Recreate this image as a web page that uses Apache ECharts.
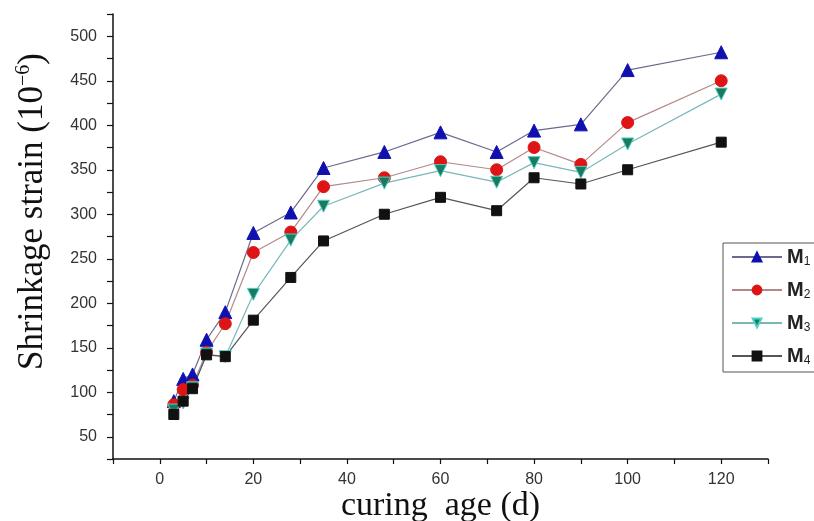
<!DOCTYPE html>
<html lang="en" style="width: 100%;height:100%">
    <head>
        <meta charset="UTF-8">
        <title>Shrinkage strain</title>
        <script src="https://cdn.jsdelivr.net/npm/echarts@6.0.0/dist/echarts.min.js"></script>
    </head>
    <body style="width: 100%;height:100%;margin:0">
        <div id="line" style="width: 814px;height:521px"></div>
        <script>
            // curing age (d) and shrinkage strain per mix
            var days = [3, 5, 7, 10, 14, 20, 28, 35, 48, 60, 72, 80, 90, 100, 120];
            var m1 = [90, 115, 120, 159, 190, 279, 302, 352, 370, 392, 370, 394, 401, 462, 482];
            var m2 = [86, 103, 108, 145, 177, 257, 280, 331, 341, 359, 350, 375, 356, 403, 450];
            var m3 = [80, 88, 105, 143, 140, 210, 271, 309, 335, 349, 336, 358, 347, 379, 435];
            var m4 = [75, 90, 104, 142, 140, 181, 229, 270, 300, 319, 304, 341, 334, 350, 381];
            var names = ['M1', 'M2', 'M3', 'M4'];

            function pairs(vals) {
                return days.map(function (d, i) { return [d, vals[i]]; });
            }

            const myChart = echarts.init(document.getElementById('line'));

            const downTri = 'path://M0,0 L10,0 L5,9 Z';

            function mkSeries(name, vals, symbol, size, fill, lineColor, border) {
                return {
                    name: name,
                    type: 'line',
                    data: pairs(vals),
                    symbol: symbol,
                    symbolSize: size,
                    lineStyle: { color: lineColor, width: 1.2 },
                    itemStyle: { color: fill, borderColor: border || fill, borderWidth: 1 },
                    emphasis: { disabled: true },
                    z: 3
                };
            }

            const option = {
                backgroundColor: '#fff',
                animation: false,
                grid: { left: 113, top: 14, right: 46, bottom: 62, outerBoundsMode: 'none', containLabel: false },
                legend: {
                    orient: 'vertical',
                    left: 723,
                    top: 243,
                    padding: [4, 40, 5, 8],
                    itemWidth: 50,
                    itemHeight: 11,
                    itemGap: 12,
                    borderColor: '#555',
                    borderWidth: 1,
                    data: names,
                    formatter: function (n) { return '{m|M}{s|' + n.slice(1) + '}'; },
                    textStyle: {
                        rich: {
                            m: { fontFamily: 'Liberation Sans', fontSize: 20, fontWeight: 'bold', color: '#222', lineHeight: 22 },
                            s: { fontFamily: 'Liberation Sans', fontSize: 12, color: '#222', padding: [10, 0, 0, 0] }
                        }
                    }
                },
                xAxis: {
                    type: 'value',
                    min: -10,
                    max: 130,
                    interval: 10,
                    name: 'curing  age (d)',
                    nameLocation: 'middle',
                    nameGap: 30,
                    nameMoveOverlap: false,
                    nameTextStyle: { fontFamily: 'Liberation Serif', fontSize: 34, color: '#111' },
                    splitLine: { show: false },
                    axisLine: { onZero: false, lineStyle: { color: '#111', width: 1.5 } },
                    axisTick: { length: 5, lineStyle: { color: '#111', width: 1.2 } },
                    axisLabel: {
                        margin: 13,
                        fontFamily: 'Liberation Sans',
                        fontSize: 16,
                        color: '#333',
                        showMinLabel: true,
                        showMaxLabel: true,
                        formatter: function (v) { return (v % 20 === 0 && v >= 0 && v <= 120) ? String(v) : ''; }
                    }
                },
                yAxis: {
                    type: 'value',
                    min: 25,
                    max: 525,
                    interval: 25,
                    name: 'Shrinkage strain (10{sup|−6})',
                    nameLocation: 'middle',
                    nameRotate: 90,
                    nameGap: 62,
                    nameMoveOverlap: false,
                    nameTextStyle: {
                        fontFamily: 'Liberation Serif',
                        fontSize: 35,
                        color: '#111',
                        padding: [0, 0, 0, 50],
                        rich: {
                            sup: { fontFamily: 'Liberation Serif', fontSize: 20, color: '#111', padding: [0, 0, 17, 0] }
                        }
                    },
                    splitLine: { show: false },
                    axisLine: { show: true, onZero: false, lineStyle: { color: '#111', width: 1.5 } },
                    axisTick: { show: true, length: 6, lineStyle: { color: '#111', width: 1.2 } },
                    axisLabel: {
                        margin: 16,
                        fontFamily: 'Liberation Sans',
                        fontSize: 16,
                        color: '#333',
                        formatter: function (v) { return (v % 50 === 0) ? String(v) : ''; }
                    }
                },
                series: [
                    mkSeries('M1', m1, 'triangle', 13, '#1010b0', '#6a6a8c'),
                    mkSeries('M2', m2, 'circle', 12, '#dd1515', '#b48888'),
                    mkSeries('M3', m3, downTri, 12, '#1a7a5e', '#7ab8b8', '#4fd0c8'),
                    mkSeries('M4', m4, 'rect', 10, '#111', '#555')
                ]
            };

            myChart.setOption(option);
        </script>
    </body>
</html>
